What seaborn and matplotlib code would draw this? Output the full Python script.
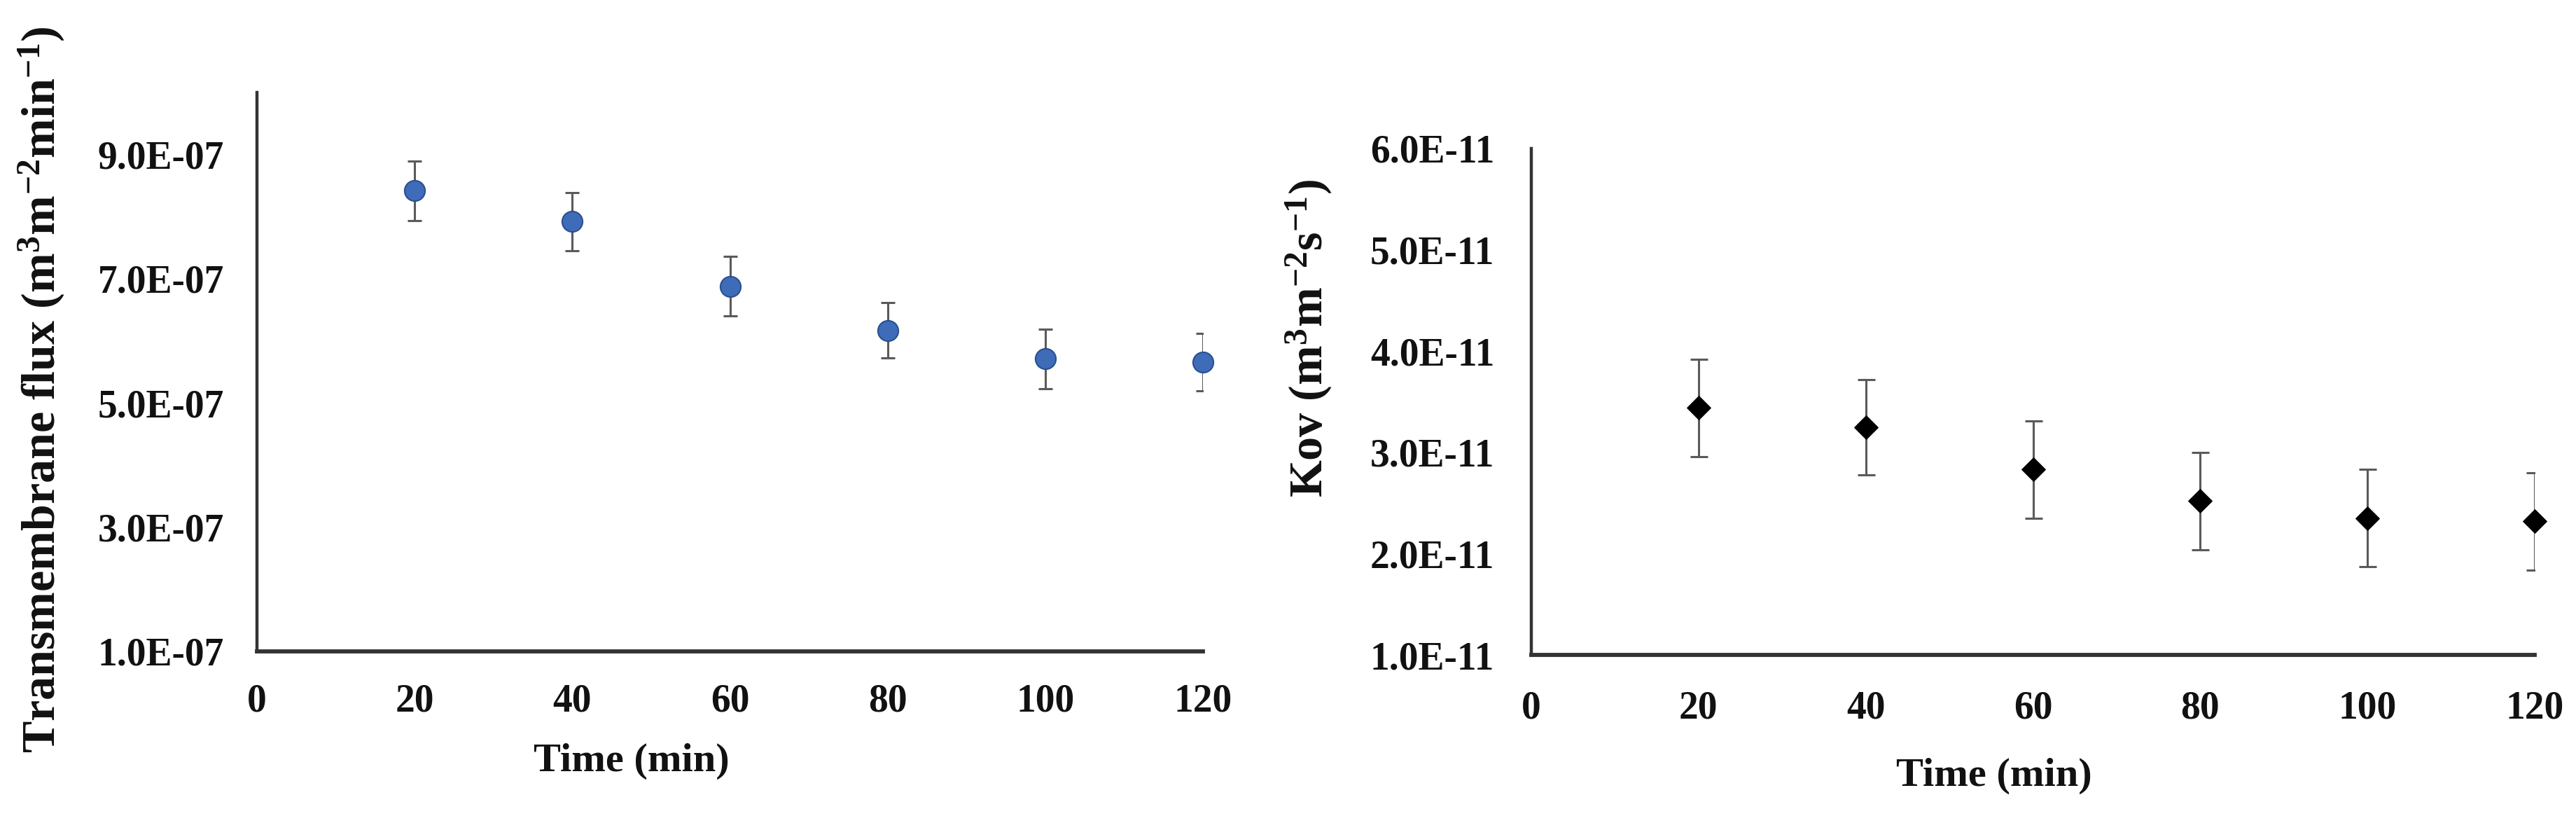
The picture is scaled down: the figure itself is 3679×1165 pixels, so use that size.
import numpy as np
import pandas as pd
import matplotlib
matplotlib.use("Agg")
import matplotlib.pyplot as plt
import seaborn as sns
from matplotlib.ticker import FuncFormatter, FixedLocator

# ---- data ----
time_min = [20, 40, 60, 80, 100, 120]
flux = [8.42e-7, 7.92e-7, 6.88e-7, 6.17e-7, 5.71e-7, 5.66e-7]
flux_err = [0.48e-7, 0.47e-7, 0.48e-7, 0.45e-7, 0.48e-7, 0.46e-7]
kov = [3.44e-11, 3.25e-11, 2.83e-11, 2.52e-11, 2.35e-11, 2.32e-11]
kov_err = [0.48e-11, 0.47e-11, 0.48e-11, 0.48e-11, 0.48e-11, 0.48e-11]
x_ticks = [0, 20, 40, 60, 80, 100, 120]
flux_ticks = [1e-7, 3e-7, 5e-7, 7e-7, 9e-7]
kov_ticks = [1e-11, 2e-11, 3e-11, 4e-11, 5e-11, 6e-11]

sns.set_theme(style="white")
plt.rcParams['font.family'] = ['Liberation Serif', 'DejaVu Serif']
plt.rcParams['font.weight'] = 'bold'
plt.rcParams['mathtext.fontset'] = 'custom'
plt.rcParams['mathtext.rm'] = 'Liberation Serif:bold'
plt.rcParams['mathtext.bf'] = 'Liberation Serif:bold'
plt.rcParams['mathtext.it'] = 'Liberation Serif:bold'
plt.rcParams['mathtext.default'] = 'bf'

W, H = 3679, 1165
fig = plt.figure(figsize=(W / 100, H / 100), dpi=100)
fig.patch.set_facecolor('white')

def box(x0, x1, ytop, ybot):
    return [x0 / W, (H - ybot) / H, (x1 - x0) / W, (ybot - ytop) / H]

ax1 = fig.add_axes(box(367, 1718, 132, 930))
ax2 = fig.add_axes(box(2187, 3620, 212, 935))

df1 = pd.DataFrame({"t": time_min, "v": flux, "e": flux_err})
df2 = pd.DataFrame({"t": time_min, "v": kov, "e": kov_err})

errc = '#5a5a5a'
ax1.errorbar(df1["t"], df1["v"], yerr=df1["e"], fmt='none', ecolor=errc,
             elinewidth=2.2, capsize=7, capthick=2.2, zorder=2)
sns.scatterplot(data=df1, x="t", y="v", ax=ax1, marker='o', s=21 ** 2,
                color='#3f6cb8', edgecolor='#2a4f8f', linewidth=1.5,
                zorder=3, clip_on=False, legend=False)

ax2.errorbar(df2["t"], df2["v"], yerr=df2["e"], fmt='none', ecolor=errc,
             elinewidth=2.2, capsize=9, capthick=2.2, zorder=2)
sns.scatterplot(data=df2, x="t", y="v", ax=ax2, marker='D', s=17 ** 2,
                color='black', edgecolor='black', linewidth=1,
                zorder=3, clip_on=False, legend=False)

fmt = FuncFormatter(lambda v, p: f"{v:.1E}")

for ax, ylim, yt, ypad, xpad in [(ax1, (1e-7, 1e-6), flux_ticks, 34, 33),
                                 (ax2, (1e-11, 6e-11), kov_ticks, 38, 36)]:
    ax.set_xlim(0, 120)
    ax.set_ylim(*ylim)
    ax.xaxis.set_major_locator(FixedLocator(x_ticks))
    ax.yaxis.set_major_locator(FixedLocator(yt))
    ax.yaxis.set_major_formatter(fmt)
    ax.tick_params(axis='both', length=0, labelsize=40, colors='#111111')
    ax.tick_params(axis='y', pad=ypad)
    ax.tick_params(axis='x', pad=xpad)
    for lab in ax.get_xticklabels() + ax.get_yticklabels():
        lab.set_fontweight('bold')
    for s in ['top', 'right']:
        ax.spines[s].set_visible(False)
    ax.spines['left'].set_linewidth(3.2)
    ax.spines['bottom'].set_linewidth(4.2)
    ax.spines['left'].set_color('#333333')
    ax.spines['bottom'].set_color('#333333')
    ax.set_facecolor('white')
    ax.grid(False)

ax1.set_xlabel("Time (min)", fontsize=42, fontweight='bold', color='#111111')
ax1.xaxis.set_label_coords(0.3956, -0.197)
ax1.xaxis.label.set_va('center')
ax1.set_ylabel(r"Transmembrane flux (m$^{3}$m$^{-2}$min$^{-1}$)", fontsize=49,
               fontweight='bold', color='#111111')
ax1.yaxis.set_label_coords(-0.227, 0.469)
ax1.yaxis.label.set_va('center')

ax2.set_xlabel("Time (min)", fontsize=42, fontweight='bold', color='#111111')
ax2.xaxis.set_label_coords(0.461, -0.239)
ax2.xaxis.label.set_va('center')
ax2.set_ylabel(r"Kov (m$^{3}$m$^{-2}$s$^{-1}$)", fontsize=49,
               fontweight='bold', color='#111111')
ax2.yaxis.set_label_coords(-0.221, 0.625)
ax2.yaxis.label.set_va('center')

fig.savefig("out.png", dpi=100, facecolor='white')
